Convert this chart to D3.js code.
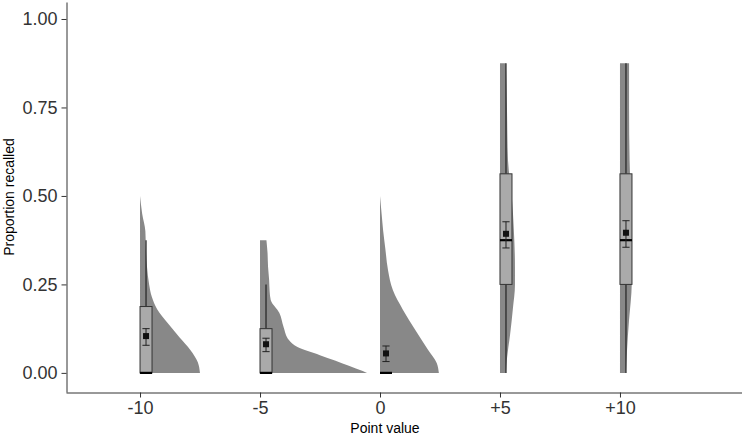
<!DOCTYPE html>
<html>
<head>
<meta charset="utf-8">
<script src="https://cdn.jsdelivr.net/npm/d3@7"></script>
<style>
  body { margin: 0; background: #fff; }
  svg { display: block; font-family: "Liberation Sans", Arial, sans-serif; }
  .axis path, .axis line { stroke: #333; }
  .axis text { fill: #333; font-size: 18px; }
</style>
</head>
<body>
<svg width="742" height="437"></svg>
<script>
// categorias e estatísticas
const categorias = ["-10", "-5", "0", "+5", "+10"];
const q1 = [0, 0, 0, 0.25, 0.25];
const mediana = [0, 0, 0, 0.375, 0.375];
const q3 = [0.1875, 0.125, 0, 0.5625, 0.5625];
const bigodeMin = [0, 0, 0, 0, 0];
const bigodeMax = [0.375, 0.25, 0, 0.875, 0.875];
const medias = [0.104, 0.081, 0.055, 0.393, 0.396];
const erroMin = [0.078, 0.060, 0.032, 0.353, 0.355];
const erroMax = [0.125, 0.098, 0.076, 0.427, 0.430];

// densidades (meio violino): [proporção, densidade relativa]
const densidades = [
  [[0.5, 0], [0.45, 0.02], [0.40, 0.05], [0.35, 0.055], [0.30, 0.065], [0.25, 0.085], [0.215, 0.11],
   [0.18, 0.16], [0.14, 0.26], [0.10, 0.37], [0.065, 0.47], [0.03, 0.54], [0, 0.56]],
  [[0.375, 0.06], [0.34, 0.07], [0.30, 0.075], [0.263, 0.085], [0.23, 0.09], [0.206, 0.10], [0.17, 0.18],
   [0.13, 0.22], [0.093, 0.27], [0.073, 0.35], [0.05, 0.56], [0.035, 0.70], [0.02, 0.83], [0.005, 0.96], [0, 1.0]],
  [[0.5, 0], [0.45, 0.015], [0.40, 0.03], [0.35, 0.05], [0.29, 0.075], [0.234, 0.12], [0.178, 0.215],
   [0.121, 0.33], [0.065, 0.45], [0.028, 0.53], [0, 0.55]],
  [[0.875, 0.055], [0.75, 0.065], [0.6, 0.075], [0.5, 0.11], [0.4, 0.13], [0.3, 0.14], [0.25, 0.14],
   [0.18, 0.12], [0.11, 0.095], [0.04, 0.065], [0, 0.055]],
  [[0.875, 0.085], [0.75, 0.085], [0.6, 0.09], [0.5, 0.10], [0.4, 0.11], [0.25, 0.11], [0.2, 0.10],
   [0.15, 0.085], [0.06, 0.065], [0, 0.055]]
];
const yTicks = [0, 0.25, 0.5, 0.75, 1];

const svg = d3.select("svg");

const x = d3.scaleLinear().domain([0.383, 6.017]).range([66, 742]);
const y = d3.scaleLinear().domain([-0.054, 1.048]).range([392, 2]);
const w = d3.scaleLinear().domain([0, 1]).range([0, 107]);

const dados = categorias.map((c, i) => ({
  i: i + 1, cat: c, q1: q1[i], med: mediana[i], q3: q3[i],
  lo: bigodeMin[i], hi: bigodeMax[i], media: medias[i], eMin: erroMin[i], eMax: erroMax[i],
  dens: densidades[i]
}));

// violinos
const area = d3.area()
  .curve(d3.curveMonotoneY)
  .y(p => y(p[0]));

svg.append("g").selectAll("path")
  .data(dados)
  .enter()
  .append("path")
  .attr("d", d => area.x0(x(d.i)).x1(p => x(d.i) + w(p[1]))(d.dens))
  .attr("fill", "#888888");

// bigodes
const g = svg.append("g");
g.selectAll(".bigode")
  .data(dados.filter(d => d.hi > d.q3 || d.lo < d.q1))
  .enter()
  .append("path")
  .attr("class", "bigode")
  .attr("d", d => {
    const cx = x(d.i + 0.05);
    return `M${cx},${y(d.q3)}V${y(d.hi)}M${cx},${y(d.q1)}V${y(d.lo)}`;
  })
  .attr("stroke", "#222")
  .attr("stroke-width", 1.2);

// caixas
g.selectAll(".caixa")
  .data(dados)
  .enter()
  .append("rect")
  .attr("class", "caixa")
  .attr("x", d => x(d.i))
  .attr("width", d => x(d.i + 0.1) - x(d.i))
  .attr("y", d => y(d.q3))
  .attr("height", d => y(d.q1) - y(d.q3))
  .attr("fill", "#aaaaaa")
  .attr("stroke", "#333")
  .attr("stroke-width", 1);

g.selectAll(".mediana")
  .data(dados)
  .enter()
  .append("line")
  .attr("x1", d => x(d.i))
  .attr("x2", d => x(d.i + 0.1))
  .attr("y1", d => y(d.med))
  .attr("y2", d => y(d.med))
  .attr("stroke", "#000")
  .attr("stroke-width", 2.2);

// barras de erro
g.selectAll(".erro")
  .data(dados)
  .enter()
  .append("path")
  .attr("d", d => {
    const cx = x(d.i + 0.05), a = x(d.i + 0.02), b = x(d.i + 0.08);
    return `M${a},${y(d.eMax)}H${b}M${cx},${y(d.eMax)}V${y(d.eMin)}M${a},${y(d.eMin)}H${b}`;
  })
  .attr("fill", "none")
  .attr("stroke", "#222")
  .attr("stroke-width", 1);

g.selectAll(".media")
  .data(dados)
  .enter()
  .append("rect")
  .attr("x", d => x(d.i + 0.05) - 3)
  .attr("y", d => y(d.media) - 3)
  .attr("width", 6)
  .attr("height", 6)
  .attr("fill", "#111");

// eixos
svg.append("g")
  .attr("class", "axis")
  .attr("transform", "translate(0,392.5)")
  .call(d3.axisBottom(x).tickValues(d3.range(1, 6)).tickFormat(i => categorias[i - 1]).tickSize(5).tickPadding(4).tickSizeOuter(0));

svg.append("g")
  .attr("class", "axis")
  .attr("transform", "translate(66.5,0)")
  .call(d3.axisLeft(y).tickValues(yTicks).tickFormat(d3.format(".2f")).tickSize(5).tickPadding(4).tickSizeOuter(0));

svg.append("text")
  .attr("x", 385)
  .attr("y", 433)
  .attr("text-anchor", "middle")
  .attr("font-size", 14)
  .attr("fill", "#000")
  .text("Point value");

svg.append("text")
  .attr("transform", "translate(14,197) rotate(-90)")
  .attr("text-anchor", "middle")
  .attr("font-size", 14)
  .attr("fill", "#000")
  .text("Proportion recalled");
</script>
</body>
</html>
